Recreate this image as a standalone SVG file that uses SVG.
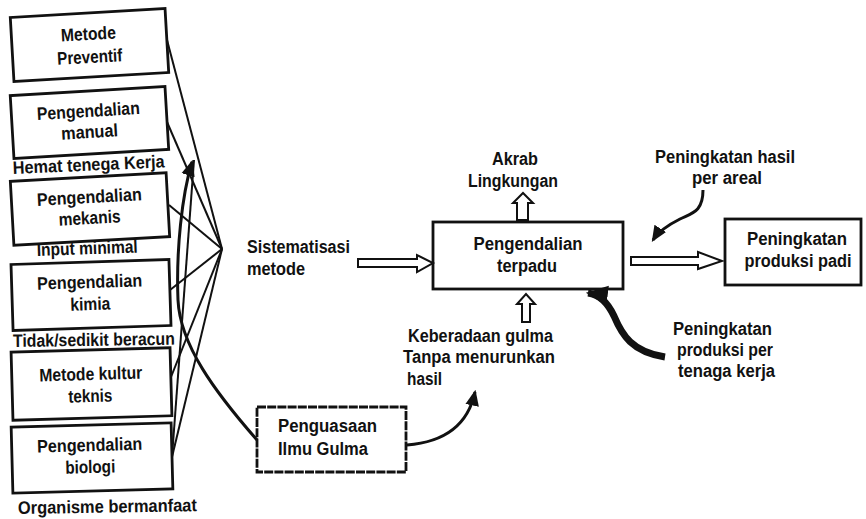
<svg xmlns="http://www.w3.org/2000/svg" width="866" height="519" viewBox="0 0 866 519">
<style>
text{font-family:"Liberation Sans",Arial,sans-serif;font-weight:bold;font-size:18px;fill:#111}
.c{text-anchor:middle}
.box{fill:none;stroke:#111;stroke-width:2.8}
.ln{fill:none;stroke:#111;stroke-width:2}
.cv{fill:none;stroke:#111;stroke-width:3}
.hol{fill:#fff;stroke:#111;stroke-width:2;stroke-linejoin:miter}
</style>
<defs>
<marker id="ah" markerUnits="userSpaceOnUse" markerWidth="16" markerHeight="16" refX="12" refY="6" orient="auto" viewBox="0 0 14 12">
<path d="M0,0 L14,6 L0,12 Z" fill="#111"/>
</marker>
<marker id="ahb" markerUnits="userSpaceOnUse" markerWidth="22" markerHeight="22" refX="18" refY="9" orient="auto" viewBox="0 0 20 18">
<path d="M0,0 L20,9 L0,18 Z" fill="#111"/>
</marker>
</defs>
<rect width="866" height="519" fill="#fff"/>

<g id="connectors">
<line class="ln" x1="167" y1="40" x2="222" y2="249"/>
<line class="ln" x1="167" y1="122" x2="222" y2="249"/>
<line class="ln" x1="169" y1="205" x2="222" y2="249"/>
<line class="ln" x1="170" y1="290" x2="222" y2="249"/>
<line class="ln" x1="171" y1="377" x2="222" y2="249"/>
<line class="ln" x1="172" y1="457" x2="222" y2="249"/>
<line class="ln" x1="172" y1="457" x2="194" y2="160"/>
<path class="cv" d="M257,440 C215,392 180,345 178,300 C176,250 182,195 192,162" marker-end="url(#ah)"/>
<polygon class="hol" points="358,259 417,259 417,255 433,263 417,272 417,267 358,267"/>
<polygon class="hol" points="517,220 517,203 513,203 523,193 533,203 528,203 528,220"/>
<polygon class="hol" points="522,322 522,304 517,304 526,294 535,304 530,304 530,322"/>
<polygon class="hol" points="631,257 698,257 698,252 722,261 698,269 698,265 631,265"/>
<path class="cv" d="M407,445 C445,442 468,425 475,392" marker-end="url(#ah)"/>
<path class="cv" d="M703,190 C703,212 692,213 680,219 C668,225 658,232 653,240" marker-end="url(#ah)"/>
<path fill="none" stroke="#111" stroke-width="7" d="M665,357 C632,352 622,335 614,316 C606,299 596,294 588,293" marker-end="url(#ahb)"/>
</g>

<g id="n-preventif" transform="rotate(-3.3 89.5 45)">
<rect class="box" x="12" y="13" width="155" height="64"/>
<text class="c" x="89" y="40" textLength="55" lengthAdjust="spacingAndGlyphs">Metode</text>
<text class="c" x="89" y="63" textLength="65" lengthAdjust="spacingAndGlyphs">Preventif</text>
</g>
<g id="n-manual" transform="rotate(-3.4 89.5 123)">
<rect class="box" x="12" y="91" width="155" height="63"/>
<text class="c" x="89" y="117" textLength="103" lengthAdjust="spacingAndGlyphs">Pengendalian</text>
<text class="c" x="89" y="138" textLength="57" lengthAdjust="spacingAndGlyphs">manual</text>
</g>
<text id="l-hemat" x="13" y="174" transform="rotate(-2.5 13 174)" textLength="152" lengthAdjust="spacingAndGlyphs">Hemat tenega Kerja</text>
<g id="n-mekanis" transform="rotate(-3.2 90 209)">
<rect class="box" x="12" y="177" width="156" height="64"/>
<text class="c" x="90" y="203" textLength="105" lengthAdjust="spacingAndGlyphs">Pengendalian</text>
<text class="c" x="89" y="224" textLength="62" lengthAdjust="spacingAndGlyphs">mekanis</text>
</g>
<text id="l-input" x="37" y="256" transform="rotate(-2 37 256)" textLength="101" lengthAdjust="spacingAndGlyphs">Input minimal</text>
<g id="n-kimia" transform="rotate(-1.8 91 295)">
<rect class="box" x="12" y="262" width="158" height="66"/>
<text class="c" x="90" y="288" textLength="105" lengthAdjust="spacingAndGlyphs">Pengendalian</text>
<text class="c" x="90" y="310" textLength="40" lengthAdjust="spacingAndGlyphs">kimia</text>
</g>
<text id="l-tidak" x="13" y="347" transform="rotate(-0.8 13 347)" textLength="162" lengthAdjust="spacingAndGlyphs">Tidak/sedikit beracun</text>
<g id="n-kultur" transform="rotate(-1.6 91 384)">
<rect class="box" x="12" y="350" width="159" height="68"/>
<text class="c" x="91" y="380" textLength="103" lengthAdjust="spacingAndGlyphs">Metode kultur</text>
<text class="c" x="90" y="402" textLength="44" lengthAdjust="spacingAndGlyphs">teknis</text>
</g>
<g id="n-biologi" transform="rotate(-1.5 92 458)">
<rect class="box" x="12" y="425" width="160" height="66"/>
<text class="c" x="90" y="451" textLength="105" lengthAdjust="spacingAndGlyphs">Pengendalian</text>
<text class="c" x="90" y="473" textLength="50" lengthAdjust="spacingAndGlyphs">biologi</text>
</g>
<text id="l-organisme" x="18" y="514" transform="rotate(-0.9 18 514)" textLength="179" lengthAdjust="spacingAndGlyphs">Organisme bermanfaat</text>
<g id="n-sistematisasi">
<text x="247" y="253" textLength="103" lengthAdjust="spacingAndGlyphs">Sistematisasi</text>
<text x="247" y="275" textLength="58" lengthAdjust="spacingAndGlyphs">metode</text>
</g>
<g id="n-penguasaan">
<rect class="box" x="257" y="407" width="149" height="65" stroke-dasharray="9 1.2"/>
<text x="278" y="432" textLength="99" lengthAdjust="spacingAndGlyphs">Penguasaan</text>
<text x="278" y="455" textLength="90" lengthAdjust="spacingAndGlyphs">Ilmu Gulma</text>
</g>
<g id="n-terpadu">
<rect class="box" x="433" y="222" width="190" height="67"/>
<text class="c" x="528" y="250" textLength="109" lengthAdjust="spacingAndGlyphs">Pengendalian</text>
<text class="c" x="527" y="272" textLength="60" lengthAdjust="spacingAndGlyphs">terpadu</text>
</g>
<g id="n-akrab">
<text class="c" x="515" y="165" textLength="46" lengthAdjust="spacingAndGlyphs">Akrab</text>
<text class="c" x="513" y="187" textLength="90" lengthAdjust="spacingAndGlyphs">Lingkungan</text>
</g>
<g id="n-keberadaan">
<text x="408" y="342" textLength="145" lengthAdjust="spacingAndGlyphs">Keberadaan gulma</text>
<text x="403" y="363" textLength="152" lengthAdjust="spacingAndGlyphs">Tanpa menurunkan</text>
<text x="407" y="385" textLength="35" lengthAdjust="spacingAndGlyphs">hasil</text>
</g>
<g id="n-hasil-areal">
<text class="c" x="725" y="163" textLength="140" lengthAdjust="spacingAndGlyphs">Peningkatan hasil</text>
<text class="c" x="727" y="184" textLength="70" lengthAdjust="spacingAndGlyphs">per areal</text>
</g>
<g id="n-padi">
<rect class="box" x="725" y="219" width="136" height="66"/>
<text class="c" x="797" y="245" textLength="100" lengthAdjust="spacingAndGlyphs">Peningkatan</text>
<text class="c" x="798" y="267" textLength="107" lengthAdjust="spacingAndGlyphs">produksi padi</text>
</g>
<g id="n-tenaga">
<text x="673" y="335" textLength="99" lengthAdjust="spacingAndGlyphs">Peningkatan</text>
<text x="677" y="356" textLength="96" lengthAdjust="spacingAndGlyphs">produksi per</text>
<text x="678" y="377" textLength="97" lengthAdjust="spacingAndGlyphs">tenaga kerja</text>
</g>
</svg>
